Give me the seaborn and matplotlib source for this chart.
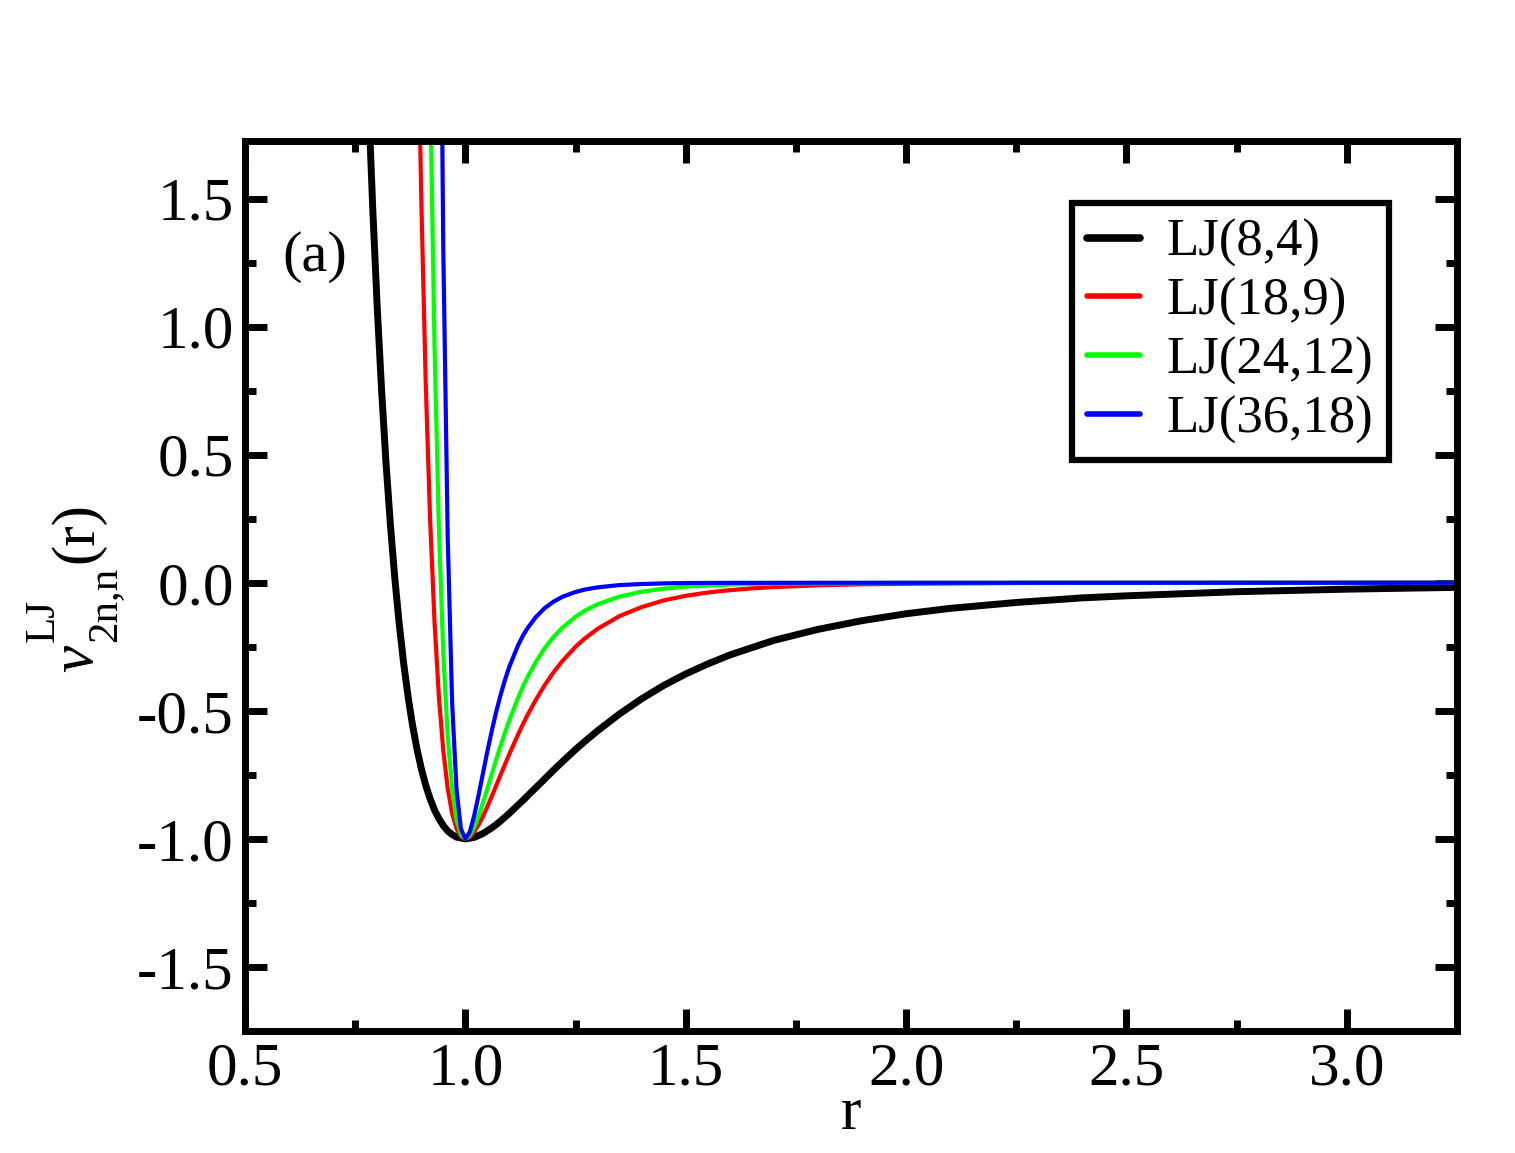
import pandas as pd
import matplotlib
matplotlib.use("Agg")
import matplotlib.pyplot as plt
import seaborn as sns
from matplotlib.ticker import MultipleLocator

# -----------------------------
# DATA
# -----------------------------
LABELS = ["LJ(8,4)", "LJ(18,9)", "LJ(24,12)", "LJ(36,18)"]
COLORS = ["#000000", "#ff0000", "#00ff00", "#0000ff"]

r_8_4 = [0.76, 0.78, 0.79, 0.80, 0.81, 0.82, 0.83, 0.84, 0.85, 0.86, 0.87, 0.88, 0.89,
         0.90, 0.91, 0.92, 0.93, 0.94, 0.95, 0.96, 0.97, 0.98, 1.00, 1.02, 1.04, 1.06,
         1.07, 1.08, 1.09, 1.10, 1.12, 1.13, 1.15, 1.16, 1.20, 1.22, 1.25, 1.27, 1.30,
         1.35, 1.40, 1.45, 1.50, 1.55, 1.60, 1.70, 1.80, 1.90, 2.00, 2.10, 2.25, 2.40,
         2.50, 2.75, 3.00, 3.25]
v_8_4 = [2.99, 1.896, 1.457, 1.078, 0.751, 0.468, 0.226, 0.017, -0.161, -0.314, -0.444,
         -0.554, -0.647, -0.725, -0.790, -0.843, -0.887, -0.921, -0.948, -0.969, -0.983,
         -0.993, -1.000, -0.994, -0.979, -0.957, -0.944, -0.930, -0.915, -0.900, -0.867,
         -0.851, -0.817, -0.800, -0.732, -0.699, -0.651, -0.621, -0.578, -0.512, -0.453,
         -0.401, -0.356, -0.317, -0.282, -0.225, -0.182, -0.148, -0.121, -0.100, -0.077,
         -0.059, -0.051, -0.035, -0.025, -0.018]

r_18_9 = [0.88, 0.89, 0.90, 0.91, 0.92, 0.93, 0.94, 0.95, 0.96, 0.97, 0.98, 0.99, 1.00,
          1.01, 1.02, 1.03, 1.04, 1.05, 1.06, 1.07, 1.08, 1.09, 1.10, 1.12, 1.13, 1.14,
          1.16, 1.18, 1.20, 1.22, 1.25, 1.27, 1.30, 1.35, 1.40, 1.45, 1.50, 1.55, 1.60,
          1.65, 1.70, 1.80, 1.90, 2.00, 2.25, 2.50, 3.00, 3.25]
v_18_9 = [3.67, 2.438, 1.500, 0.787, 0.250, -0.151, -0.445, -0.656, -0.803, -0.901,
          -0.960, -0.991, -1.000, -0.993, -0.973, -0.945, -0.912, -0.874, -0.834, -0.792,
          -0.750, -0.709, -0.668, -0.591, -0.555, -0.520, -0.457, -0.400, -0.350, -0.306,
          -0.250, -0.219, -0.180, -0.130, -0.095, -0.069, -0.051, -0.038, -0.029, -0.022,
          -0.017, -0.010, -0.006, -0.004, -0.001, -0.0005, -0.0001, 0.0]

r_24_12 = [0.91, 0.92, 0.93, 0.94, 0.95, 0.96, 0.97, 0.98, 0.99, 1.00, 1.01, 1.02, 1.03,
           1.04, 1.05, 1.06, 1.07, 1.08, 1.09, 1.10, 1.12, 1.13, 1.14, 1.16, 1.18, 1.20,
           1.22, 1.25, 1.27, 1.30, 1.35, 1.40, 1.45, 1.50, 1.60, 1.70, 1.80, 2.00, 2.50,
           3.25]
v_24_12 = [3.41, 1.958, 0.929, 0.213, -0.277, -0.601, -0.805, -0.925, -0.984, -1.000,
           -0.987, -0.955, -0.911, -0.859, -0.804, -0.747, -0.691, -0.637, -0.585, -0.536,
           -0.448, -0.408, -0.372, -0.309, -0.256, -0.212, -0.176, -0.133, -0.110, -0.084,
           -0.054, -0.035, -0.023, -0.015, -0.007, -0.003, -0.002, -0.0005, 0.0, 0.0]

r_36_18 = [0.94, 0.95, 0.96, 0.97, 0.98, 0.99, 1.00, 1.01, 1.02, 1.03, 1.04, 1.05, 1.06,
           1.07, 1.08, 1.09, 1.10, 1.12, 1.13, 1.14, 1.16, 1.18, 1.20, 1.22, 1.25, 1.27,
           1.30, 1.35, 1.40, 1.45, 1.50, 1.60, 1.80, 3.25]
v_36_18 = [3.19, 1.303, 0.177, -0.467, -0.808, -0.961, -1.000, -0.973, -0.910, -0.830,
           -0.744, -0.658, -0.578, -0.504, -0.438, -0.379, -0.327, -0.243, -0.209, -0.180,
           -0.134, -0.099, -0.074, -0.055, -0.036, -0.027, -0.018, -0.009, -0.005, -0.0025,
           -0.001, -0.0004, 0.0, 0.0]

R_VALUES = [r_8_4, r_18_9, r_24_12, r_36_18]
V_VALUES = [v_8_4, v_18_9, v_24_12, v_36_18]
WIDTHS = [5.0, 3.0, 3.0, 3.0]

X_TICKS = [0.5, 1.0, 1.5, 2.0, 2.5, 3.0]
Y_TICKS = [-1.5, -1.0, -0.5, 0.0, 0.5, 1.0, 1.5]

# -----------------------------
# STYLE
# -----------------------------
sns.set_theme(style="ticks")
plt.rcParams["font.family"] = ["Liberation Serif", "DejaVu Serif"]
for key in ["text.color", "axes.labelcolor", "xtick.color", "ytick.color",
            "axes.edgecolor"]:
    plt.rcParams[key] = "black"

rows = []
for label, rs, vs in zip(LABELS, R_VALUES, V_VALUES):
    for r, v in zip(rs, vs):
        rows.append({"r": r, "v": v, "Potential": label})
df = pd.DataFrame(rows)

W, H = 1515, 1153
fig = plt.figure(figsize=(W / 100, H / 100), dpi=100)
ax = fig.add_axes([0.1617, 0.1058, 0.8, 0.772])

for label, color, lw in zip(LABELS, COLORS, WIDTHS):
    sub = df[df["Potential"] == label]
    sns.lineplot(data=sub, x="r", y="v", color=color, linewidth=lw,
                 label=label, estimator=None, sort=False, ax=ax)

ax.set_xlim(0.5, 3.25)
ax.set_ylim(-1.75, 1.725)
ax.set_xticks(X_TICKS)
ax.set_yticks(Y_TICKS)
ax.set_xticklabels([f"{t:.1f}" for t in X_TICKS])
ax.set_yticklabels([f"{t:.1f}" for t in Y_TICKS])
ax.xaxis.set_minor_locator(MultipleLocator(0.25))
ax.yaxis.set_minor_locator(MultipleLocator(0.25))

ax.tick_params(which="both", direction="in", top=True, right=True, width=5,
               colors="black")
ax.tick_params(which="major", length=16, labelsize=44, pad=8)
ax.tick_params(which="minor", length=8)
for s in ax.spines.values():
    s.set_linewidth(5)
    s.set_color("black")

ax.set_xlabel("r", fontsize=44, labelpad=-8)
ax.set_ylabel("")

# y label pieces: v, subscript "2n,n", raised "LJ", "(r)"
ylab = dict(rotation=90, rotation_mode="anchor", ha="left", va="baseline")
fig.text(92 / W, 1 - 672 / H, "v", fontsize=44, fontstyle="italic", **ylab)
fig.text(115 / W, 1 - 642 / H, "2n,n", fontsize=31, **ylab)
fig.text(54 / W, 1 - 642 / H, "LJ", fontsize=31, **ylab)
fig.text(92 / W, 1 - 563 / H, "(r)", fontsize=44, **ylab)

ax.text(0.585, 1.27, "(a)", fontsize=42, ha="left", va="center")

leg = ax.legend(loc="upper right", bbox_to_anchor=(0.944, 0.930), borderaxespad=0,
                fontsize=38, frameon=True, fancybox=False, edgecolor="black",
                handlelength=1.0, handletextpad=0.5, labelspacing=0.2,
                borderpad=0.3)
leg.get_frame().set_linewidth(4.5)
leg.get_frame().set_alpha(1)
for line, lw in zip(leg.get_lines(), [5.5, 4.0, 4.0, 4.0]):
    line.set_linewidth(lw)

fig.savefig("out.png", dpi=100, facecolor="white")
